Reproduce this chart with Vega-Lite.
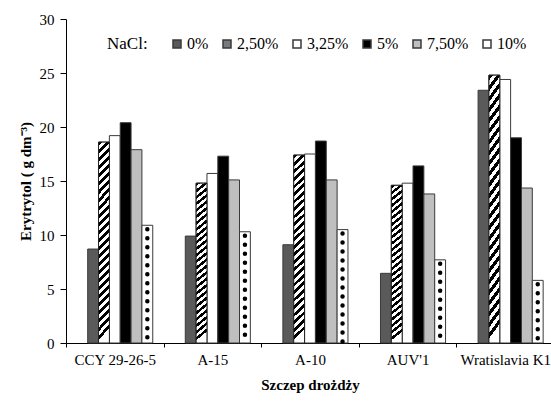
{
  "$schema": "https://vega.github.io/schema/vega-lite/v6.json",
  "autosize": "none",
  "width": 488,
  "height": 324,
  "padding": {"left": 66, "top": 19, "right": 0, "bottom": 58},
  "background": "white",
  "config": {
    "view": {"stroke": null},
    "font": "Liberation Serif",
    "axis": {"domainColor": "black", "tickColor": "black", "labelColor": "black", "titleColor": "black", "labelFont": "Liberation Serif", "titleFont": "Liberation Serif", "grid": false},
    "legend": {"labelFont": "Liberation Serif", "titleFont": "Liberation Serif", "labelColor": "black", "titleColor": "black"}
  },
  "data": {
    "values": [
      {"strain": "CCY 29-26-5", "nacl": "0%", "value": 8.7},
      {"strain": "CCY 29-26-5", "nacl": "2,50%", "value": 18.6},
      {"strain": "CCY 29-26-5", "nacl": "3,25%", "value": 19.2},
      {"strain": "CCY 29-26-5", "nacl": "5%", "value": 20.4},
      {"strain": "CCY 29-26-5", "nacl": "7,50%", "value": 17.9},
      {"strain": "CCY 29-26-5", "nacl": "10%", "value": 10.9},
      {"strain": "A-15", "nacl": "0%", "value": 9.9},
      {"strain": "A-15", "nacl": "2,50%", "value": 14.8},
      {"strain": "A-15", "nacl": "3,25%", "value": 15.7},
      {"strain": "A-15", "nacl": "5%", "value": 17.3},
      {"strain": "A-15", "nacl": "7,50%", "value": 15.1},
      {"strain": "A-15", "nacl": "10%", "value": 10.3},
      {"strain": "A-10", "nacl": "0%", "value": 9.1},
      {"strain": "A-10", "nacl": "2,50%", "value": 17.4},
      {"strain": "A-10", "nacl": "3,25%", "value": 17.5},
      {"strain": "A-10", "nacl": "5%", "value": 18.7},
      {"strain": "A-10", "nacl": "7,50%", "value": 15.1},
      {"strain": "A-10", "nacl": "10%", "value": 10.5},
      {"strain": "AUV'1", "nacl": "0%", "value": 6.45},
      {"strain": "AUV'1", "nacl": "2,50%", "value": 14.6},
      {"strain": "AUV'1", "nacl": "3,25%", "value": 14.8},
      {"strain": "AUV'1", "nacl": "5%", "value": 16.4},
      {"strain": "AUV'1", "nacl": "7,50%", "value": 13.8},
      {"strain": "AUV'1", "nacl": "10%", "value": 7.7},
      {"strain": "Wratislavia K1", "nacl": "0%", "value": 23.4},
      {"strain": "Wratislavia K1", "nacl": "2,50%", "value": 24.8},
      {"strain": "Wratislavia K1", "nacl": "3,25%", "value": 24.4},
      {"strain": "Wratislavia K1", "nacl": "5%", "value": 19.0},
      {"strain": "Wratislavia K1", "nacl": "7,50%", "value": 14.35},
      {"strain": "Wratislavia K1", "nacl": "10%", "value": 5.8}
    ]
  },
  "layer": [
    {
      "mark": {"type": "bar", "stroke": "#3a3a3a", "strokeWidth": 1},
      "encoding": {
        "x": {
          "field": "strain", "type": "nominal", "sort": null,
          "scale": {"paddingInner": 0, "paddingOuter": 0},
          "axis": {"title": "Szczep drożdży", "tickBand": "extent", "tickSize": 4, "labelAngle": 0, "labelPadding": 5, "labelFontSize": 15, "titleFontSize": 15, "titleFontWeight": "bold", "titlePadding": 10}
        },
        "xOffset": {
          "field": "nacl", "type": "nominal",
          "scale": {"domain": ["p1", "p2", "0%", "2,50%", "3,25%", "5%", "7,50%", "10%", "p3"], "paddingInner": 0, "paddingOuter": 0}
        },
        "y": {
          "field": "value", "type": "quantitative",
          "scale": {"domain": [0, 30], "nice": false},
          "axis": {"title": "Erytrytol ( g dm⁻³)", "values": [0, 5, 10, 15, 20, 25, 30], "tickSize": 6, "labelPadding": 6, "labelFontSize": 15, "titleFontSize": 15, "titleFontWeight": "bold", "titlePadding": 6}
        },
        "fill": {
          "field": "nacl", "type": "nominal",
          "scale": {
            "domain": ["0%", "2,50%", "3,25%", "5%", "7,50%", "10%"],
            "range": ["#5a5a5a", "#7a7a7a", "#ffffff", "#000000", "#bfbfbf", "#ffffff"]
          },
          "legend": {
            "title": "NaCl:", "orient": "none", "direction": "horizontal", "titleOrient": "left",
            "legendX": 41, "legendY": 17,
            "titleFont": "Liberation Serif", "labelFont": "Liberation Serif",
            "titleFontSize": 17, "titleFontWeight": "normal", "titlePadding": 21,
            "labelFontSize": 16, "labelOffset": 2, "columnPadding": 10,
            "symbolType": "square", "symbolSize": 64, "symbolOpacity": 1,
            "encode": {
              "symbols": {
                "stroke": {"value": "#333333"},
                "strokeWidth": {"value": 1}
              }
            }
          }
        }
      }
    },
    {
      "transform": [{"filter": "datum.nacl === '2,50%'"}],
      "mark": {"type": "bar", "stroke": "#222", "strokeWidth": 1,
        "fill": {"gradient": "linear", "x1": 0, "y1": 0, "x2": 0.055, "y2": 1, "stops": [
          {"offset": 0, "color": "#000"}, {"offset": 0.02, "color": "#000"}, {"offset": 0.02, "color": "#fff"}, {"offset": 0.04, "color": "#fff"},
          {"offset": 0.04, "color": "#000"}, {"offset": 0.06, "color": "#000"}, {"offset": 0.06, "color": "#fff"}, {"offset": 0.08, "color": "#fff"},
          {"offset": 0.08, "color": "#000"}, {"offset": 0.1, "color": "#000"}, {"offset": 0.1, "color": "#fff"}, {"offset": 0.12, "color": "#fff"},
          {"offset": 0.12, "color": "#000"}, {"offset": 0.14, "color": "#000"}, {"offset": 0.14, "color": "#fff"}, {"offset": 0.16, "color": "#fff"},
          {"offset": 0.16, "color": "#000"}, {"offset": 0.18, "color": "#000"}, {"offset": 0.18, "color": "#fff"}, {"offset": 0.2, "color": "#fff"},
          {"offset": 0.2, "color": "#000"}, {"offset": 0.22, "color": "#000"}, {"offset": 0.22, "color": "#fff"}, {"offset": 0.24, "color": "#fff"},
          {"offset": 0.24, "color": "#000"}, {"offset": 0.26, "color": "#000"}, {"offset": 0.26, "color": "#fff"}, {"offset": 0.28, "color": "#fff"},
          {"offset": 0.28, "color": "#000"}, {"offset": 0.3, "color": "#000"}, {"offset": 0.3, "color": "#fff"}, {"offset": 0.32, "color": "#fff"},
          {"offset": 0.32, "color": "#000"}, {"offset": 0.34, "color": "#000"}, {"offset": 0.34, "color": "#fff"}, {"offset": 0.36, "color": "#fff"},
          {"offset": 0.36, "color": "#000"}, {"offset": 0.38, "color": "#000"}, {"offset": 0.38, "color": "#fff"}, {"offset": 0.4, "color": "#fff"},
          {"offset": 0.4, "color": "#000"}, {"offset": 0.42, "color": "#000"}, {"offset": 0.42, "color": "#fff"}, {"offset": 0.44, "color": "#fff"},
          {"offset": 0.44, "color": "#000"}, {"offset": 0.46, "color": "#000"}, {"offset": 0.46, "color": "#fff"}, {"offset": 0.48, "color": "#fff"},
          {"offset": 0.48, "color": "#000"}, {"offset": 0.5, "color": "#000"}, {"offset": 0.5, "color": "#fff"}, {"offset": 0.52, "color": "#fff"},
          {"offset": 0.52, "color": "#000"}, {"offset": 0.54, "color": "#000"}, {"offset": 0.54, "color": "#fff"}, {"offset": 0.56, "color": "#fff"},
          {"offset": 0.56, "color": "#000"}, {"offset": 0.58, "color": "#000"}, {"offset": 0.58, "color": "#fff"}, {"offset": 0.6, "color": "#fff"},
          {"offset": 0.6, "color": "#000"}, {"offset": 0.62, "color": "#000"}, {"offset": 0.62, "color": "#fff"}, {"offset": 0.64, "color": "#fff"},
          {"offset": 0.64, "color": "#000"}, {"offset": 0.66, "color": "#000"}, {"offset": 0.66, "color": "#fff"}, {"offset": 0.68, "color": "#fff"},
          {"offset": 0.68, "color": "#000"}, {"offset": 0.7, "color": "#000"}, {"offset": 0.7, "color": "#fff"}, {"offset": 0.72, "color": "#fff"},
          {"offset": 0.72, "color": "#000"}, {"offset": 0.74, "color": "#000"}, {"offset": 0.74, "color": "#fff"}, {"offset": 0.76, "color": "#fff"},
          {"offset": 0.76, "color": "#000"}, {"offset": 0.78, "color": "#000"}, {"offset": 0.78, "color": "#fff"}, {"offset": 0.8, "color": "#fff"},
          {"offset": 0.8, "color": "#000"}, {"offset": 0.82, "color": "#000"}, {"offset": 0.82, "color": "#fff"}, {"offset": 0.84, "color": "#fff"},
          {"offset": 0.84, "color": "#000"}, {"offset": 0.86, "color": "#000"}, {"offset": 0.86, "color": "#fff"}, {"offset": 0.88, "color": "#fff"},
          {"offset": 0.88, "color": "#000"}, {"offset": 0.9, "color": "#000"}, {"offset": 0.9, "color": "#fff"}, {"offset": 0.92, "color": "#fff"},
          {"offset": 0.92, "color": "#000"}, {"offset": 0.94, "color": "#000"}, {"offset": 0.94, "color": "#fff"}, {"offset": 0.96, "color": "#fff"},
          {"offset": 0.96, "color": "#000"}, {"offset": 0.98, "color": "#000"}, {"offset": 0.98, "color": "#fff"}, {"offset": 1, "color": "#fff"}
        ]}},
      "encoding": {
        "x": {"field": "strain", "type": "nominal", "sort": null},
        "xOffset": {"field": "nacl", "type": "nominal"},
        "y": {"field": "value", "type": "quantitative"}
      }
    },
    {
      "transform": [{"filter": "datum.nacl === '10%'"}],
      "mark": {"type": "rule", "stroke": "black", "strokeWidth": 4.5, "strokeCap": "round", "strokeDash": [0, 9], "strokeDashOffset": 5},
      "encoding": {
        "x": {"field": "strain", "type": "nominal", "sort": null},
        "xOffset": {"field": "nacl", "type": "nominal"},
        "y": {"field": "value", "type": "quantitative"},
        "y2": {"datum": 0}
      }
    }
  ]
}
